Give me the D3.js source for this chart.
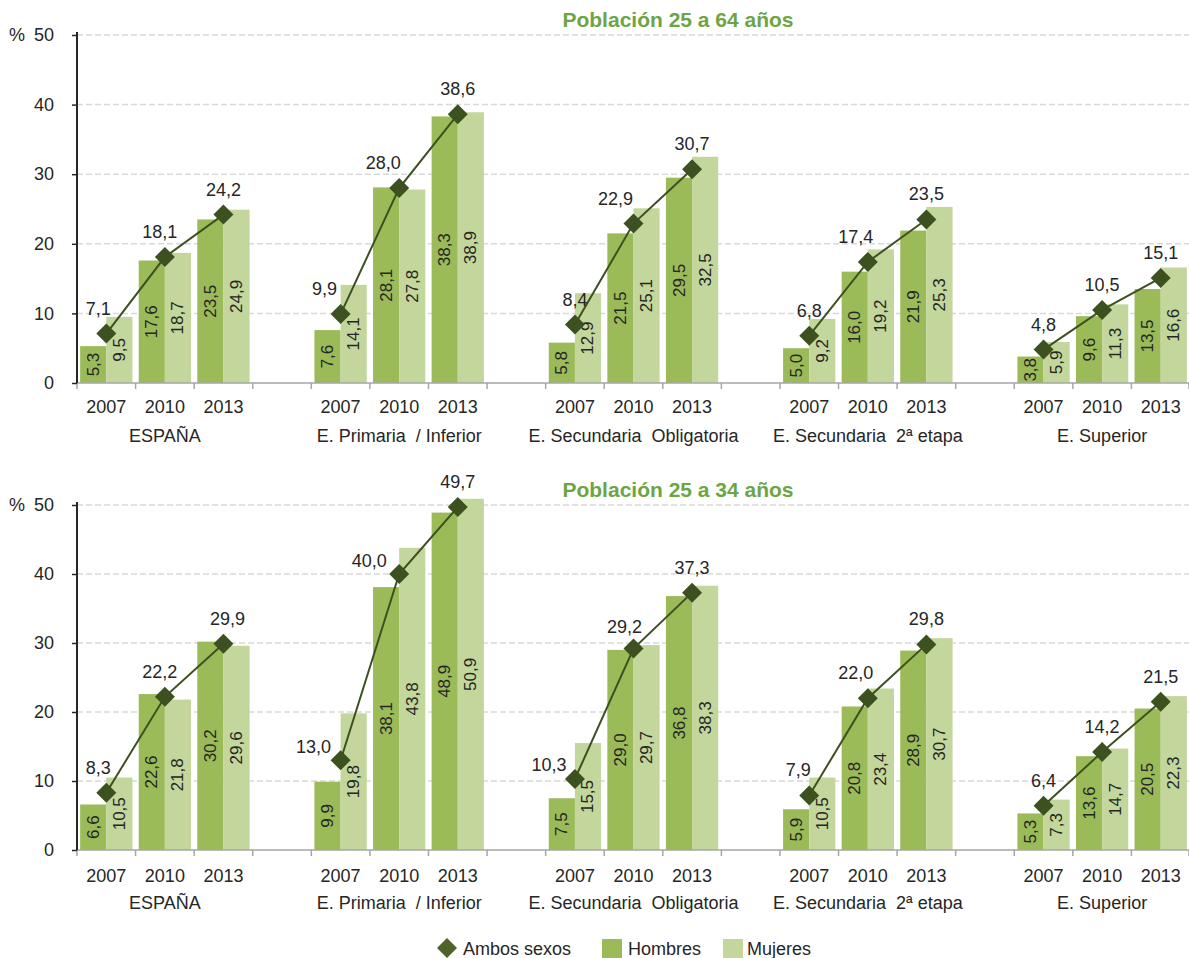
<!DOCTYPE html>
<html>
<head>
<meta charset="utf-8">
<script src="https://cdn.jsdelivr.net/npm/d3@7"></script>
<style>
  body { margin: 0; background: #fff; }
  svg { display: block; font-family: "Liberation Sans", Arial, sans-serif; }
</style>
</head>
<body>
<svg width="1189" height="958"></svg>
<script>
const groups = ["ESPAÑA", "E. Primaria  / Inferior", "E. Secundaria  Obligatoria", "E. Secundaria  2ª etapa", "E. Superior"];
const years = ["2007", "2010", "2013"];
const yTicks = [0, 10, 20, 30, 40, 50];
const seriesNames = ["Ambos sexos", "Hombres", "Mujeres"];

// Población 25 a 64 años
const ambos64 = [[7.1, 18.1, 24.2], [9.9, 28.0, 38.6], [8.4, 22.9, 30.7], [6.8, 17.4, 23.5], [4.8, 10.5, 15.1]];
const hombres64 = [[5.3, 17.6, 23.5], [7.6, 28.1, 38.3], [5.8, 21.5, 29.5], [5.0, 16.0, 21.9], [3.8, 9.6, 13.5]];
const mujeres64 = [[9.5, 18.7, 24.9], [14.1, 27.8, 38.9], [12.9, 25.1, 32.5], [9.2, 19.2, 25.3], [5.9, 11.3, 16.6]];

// Población 25 a 34 años
const ambos34 = [[8.3, 22.2, 29.9], [13.0, 40.0, 49.7], [10.3, 29.2, 37.3], [7.9, 22.0, 29.8], [6.4, 14.2, 21.5]];
const hombres34 = [[6.6, 22.6, 30.2], [9.9, 38.1, 48.9], [7.5, 29.0, 36.8], [5.9, 20.8, 28.9], [5.3, 13.6, 20.5]];
const mujeres34 = [[10.5, 21.8, 29.6], [19.8, 43.8, 50.9], [15.5, 29.7, 38.3], [10.5, 23.4, 30.7], [7.3, 14.7, 22.3]];

// label nudges for the "ambos" values (dx, dy from the marker), like the hand-placed labels
const nudge64 = [[[-8, -19], [-5, -19], [0, -19]], [[-16, -19], [-16, -19], [0, -19]], [[0, -19], [-18, -19], [0, -19]], [[0, -19], [-12, -19], [0, -19]], [[0, -19], [0, -19], [0, -19]]];
const nudge34 = [[[-8, -19], [-5, -19], [4, -19]], [[-27, -7], [-30, -7], [0, -19]], [[-26, -8], [-9, -16], [0, -19]], [[-11, -19], [-12, -19], [0, -19]], [[0, -19], [0, -19], [0, -19]]];

const colH = "#9bbb59", colM = "#c3d69b", colA = "#3d5120", textCol = "#262626";
const fmt = v => d3.format(".1f")(v).replace(".", ",");

const svg = d3.select("svg");

// slots: 3 years per group, one empty slot between groups
const slots = [];
groups.forEach((g, gi) => {
  years.forEach(y => slots.push(gi + "-" + y));
  if (gi < groups.length - 1) slots.push("gap" + gi);
});

const x = d3.scaleBand().domain(slots).range([77, 1190]).padding(0);
const xs = d3.scaleBand().domain(["Hombres", "Mujeres"]).range([0, x.bandwidth()]).paddingOuter(0.12).paddingInner(0);

function panel(title, titleY, yRange, yearY, groupY, ambos, hombres, mujeres, nudge) {
  const y = d3.scaleLinear().domain([0, 50]).range(yRange);
  const g = svg.append("g");

  // grid
  g.selectAll(".grid").data(yTicks.slice(1)).join("line")
    .attr("x1", 77).attr("x2", 1189)
    .attr("y1", d => y(d)).attr("y2", d => y(d))
    .attr("stroke", "#d9d9d9").attr("stroke-width", 1.5).attr("stroke-dasharray", "6,3");

  // title
  g.append("text").attr("x", 678).attr("y", titleY).attr("text-anchor", "middle")
    .attr("font-size", 21).attr("font-weight", "bold").attr("fill", "#6ea544")
    .text(title);

  // bars
  const rows = [];
  groups.forEach((gr, gi) => years.forEach((yr, yi) => {
    rows.push({ key: gi + "-" + yr, gi, yi, h: hombres[gi][yi], m: mujeres[gi][yi], a: ambos[gi][yi] });
  }));

  const cells = g.selectAll(".cell").data(rows).join("g")
    .attr("transform", d => `translate(${x(d.key)},0)`);

  [["Hombres", "h", colH], ["Mujeres", "m", colM]].forEach(([name, k, col]) => {
    cells.append("rect")
      .attr("x", xs(name)).attr("width", xs.bandwidth())
      .attr("y", d => y(d[k])).attr("height", d => y(0) - y(d[k]))
      .attr("fill", col);
    cells.append("text")
      .attr("transform", d => `translate(${xs(name) + xs.bandwidth() / 2},${(y(d[k]) + y(0)) / 2}) rotate(-90)`)
      .attr("text-anchor", "middle").attr("dominant-baseline", "central")
      .attr("font-size", 17).attr("fill", textCol)
      .text(d => fmt(d[k]));
  });

  // x axis
  g.append("line").attr("x1", 77).attr("x2", 1189).attr("y1", y(0)).attr("y2", y(0))
    .attr("stroke", "#a6a6a6").attr("stroke-width", 1.5);
  const bounds = slots.map(s => x(s)).concat([x.range()[1] - 1]);
  g.selectAll(".xt").data(bounds).join("line")
    .attr("x1", d => d).attr("x2", d => d).attr("y1", y(0)).attr("y2", y(0) + 6)
    .attr("stroke", "#a6a6a6").attr("stroke-width", 1.5);
  g.selectAll(".yr").data(rows).join("text")
    .attr("x", d => x(d.key) + x.bandwidth() / 2).attr("y", yearY)
    .attr("text-anchor", "middle").attr("font-size", 18).attr("fill", textCol)
    .text(d => years[d.yi]);
  g.selectAll(".grp").data(groups).join("text")
    .attr("x", (d, i) => x(i + "-" + years[1]) + x.bandwidth() / 2).attr("y", groupY)
    .attr("text-anchor", "middle").attr("font-size", 18).attr("fill", textCol)
    .style("white-space", "pre")
    .text(d => d);

  // y axis
  const ya = g.append("g").attr("transform", "translate(77,0)")
    .call(d3.axisLeft(y).tickValues(yTicks).tickSize(5).tickPadding(18));
  ya.select(".domain").remove();
  ya.selectAll(".tick line").attr("stroke", textCol).attr("stroke-width", 1.5);
  ya.selectAll(".tick text").attr("font-size", 18).attr("fill", textCol)
    .attr("font-family", "Liberation Sans, Arial, sans-serif");
  g.append("line").attr("x1", 77).attr("x2", 77).attr("y1", y(0)).attr("y2", y(50) - 3)
    .attr("stroke", textCol).attr("stroke-width", 2);
  g.append("text").attr("x", 17).attr("y", y(50)).attr("dy", "0.32em")
    .attr("text-anchor", "middle").attr("font-size", 18).attr("fill", textCol).text("%");

  // ambos sexos lines per group
  const line = d3.line().x(d => x(d.key) + x.bandwidth() / 2).y(d => y(d.a));
  groups.forEach((gr, gi) => {
    g.append("path").datum(rows.filter(r => r.gi === gi))
      .attr("d", line).attr("fill", "none").attr("stroke", colA).attr("stroke-width", 2);
  });
  g.selectAll(".mk").data(rows).join("path")
    .attr("d", d3.symbol(d3.symbolSquare, 200))
    .attr("transform", d => `translate(${x(d.key) + x.bandwidth() / 2},${y(d.a)}) rotate(45)`)
    .attr("fill", colA);
  g.selectAll(".al").data(rows).join("text")
    .attr("x", d => x(d.key) + x.bandwidth() / 2 + nudge[d.gi][d.yi][0])
    .attr("y", d => y(d.a) + nudge[d.gi][d.yi][1])
    .attr("text-anchor", "middle").attr("font-size", 18).attr("fill", textCol)
    .text(d => fmt(d.a));
}

panel("Población 25 a 64 años", 27, [383, 35], 413, 442, ambos64, hombres64, mujeres64, nudge64);
panel("Población 25 a 34 años", 497, [850, 505], 882, 909, ambos34, hombres34, mujeres34, nudge34);

// legend
const leg = svg.append("g");
leg.append("path").attr("d", d3.symbol(d3.symbolSquare, 200))
  .attr("transform", "translate(447,948) rotate(45)").attr("fill", "#4f6228");
leg.append("text").attr("x", 463).attr("y", 955).attr("font-size", 18).attr("fill", textCol).text(seriesNames[0]);
leg.append("rect").attr("x", 602).attr("y", 939).attr("width", 20).attr("height", 19).attr("fill", colH);
leg.append("text").attr("x", 628).attr("y", 955).attr("font-size", 18).attr("fill", textCol).text(seriesNames[1]);
leg.append("rect").attr("x", 723).attr("y", 939).attr("width", 20).attr("height", 19).attr("fill", colM);
leg.append("text").attr("x", 747).attr("y", 955).attr("font-size", 18).attr("fill", textCol).text(seriesNames[2]);
</script>
</body>
</html>
